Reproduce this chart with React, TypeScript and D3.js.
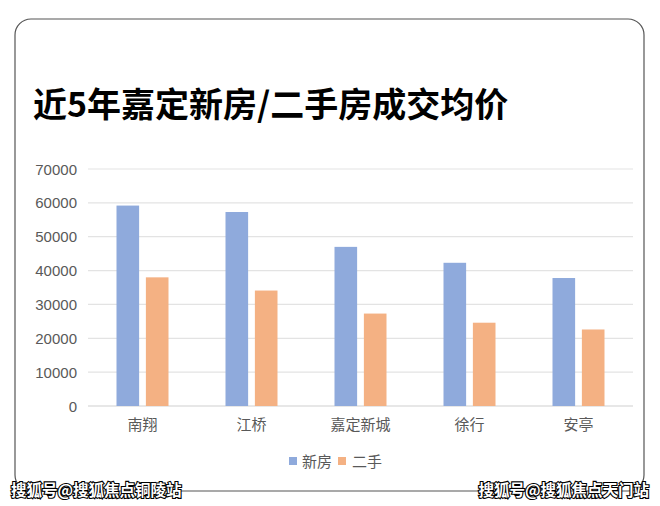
import * as d3 from 'd3';

const categories = ['南翔', '江桥', '嘉定新城', '徐行', '安亭'];
const seriesNames = ['新房', '二手'];
const newHouse = [59200, 57300, 47000, 42300, 37800];
const secondHand = [38000, 34100, 27300, 24600, 22600];
const yTicks = [0, 10000, 20000, 30000, 40000, 50000, 60000, 70000];
const colors = ['#8faadc', '#f4b183'];

const width = 660;
const height = 506;
const margins = { top: 169, right: 27, bottom: 100, left: 88 };

const App = () => {
  const xScale = d3
    .scaleBand<string>()
    .domain(categories)
    .range([margins.left, width - margins.right])
    .padding(0);
  const innerScale = d3
    .scaleBand<string>()
    .domain(seriesNames)
    .range([0, xScale.bandwidth()])
    .paddingInner(0.23)
    .paddingOuter(0.97);
  const yScale = d3
    .scaleLinear()
    .domain([0, 70000])
    .range([height - margins.bottom, margins.top]);

  const series = [newHouse, secondHand];
  const font = '"Liberation Sans", "Noto Sans CJK SC", sans-serif';
  const cjk = '"Noto Sans CJK SC", sans-serif';

  return (
    <svg
      width={width}
      height={height}
      viewBox={`0 0 ${width} ${height}`}
      style={{ position: 'absolute', left: 0, top: 0, background: '#fff' }}
    >
      <rect x={0} y={0} width={width} height={height} fill="#fff" />
      <rect
        x={15}
        y={19}
        width={629}
        height={472}
        rx={16}
        fill="none"
        stroke="#555"
        strokeWidth={1.2}
      />
      <text x={33} y={117} fontFamily={cjk} fontWeight="bold" fontSize={34} fill="#000">
        近5年嘉定新房/二手房成交均价
      </text>

      {yTicks.map(t => (
        <g key={t}>
          <line
            x1={margins.left}
            x2={width - margins.right}
            y1={yScale(t)}
            y2={yScale(t)}
            stroke={t === 0 ? '#cfcfcf' : '#e3e3e3'}
            strokeWidth={1.2}
          />
          <text
            x={77}
            y={yScale(t)}
            textAnchor="end"
            dominantBaseline="central"
            fontFamily={font}
            fontSize={15}
            fill="#595959"
          >
            {t}
          </text>
        </g>
      ))}

      {categories.map((c, i) => (
        <g key={c} transform={`translate(${xScale(c)}, 0)`}>
          {series.map((values, j) => (
            <rect
              key={seriesNames[j]}
              x={innerScale(seriesNames[j])}
              y={yScale(values[i])}
              width={innerScale.bandwidth()}
              height={yScale(0) - yScale(values[i])}
              fill={colors[j]}
            />
          ))}
          <text
            x={xScale.bandwidth() / 2}
            y={430}
            textAnchor="middle"
            fontFamily={cjk}
            fontSize={15}
            fill="#595959"
          >
            {c}
          </text>
        </g>
      ))}

      <g>
        <rect x={289} y={457} width={8} height={8} fill={colors[0]} />
        <text x={302} y={467} fontFamily={cjk} fontSize={15} fill="#595959">
          {seriesNames[0]}
        </text>
        <rect x={338} y={457} width={8} height={8} fill={colors[1]} />
        <text x={352} y={467} fontFamily={cjk} fontSize={15} fill="#595959">
          {seriesNames[1]}
        </text>
      </g>

      <g fontFamily={cjk} fontWeight="bold" fontSize={15.5} fill="#fff" stroke="#000" strokeWidth={2.2} paintOrder="stroke">
        <text x={11} y={496}>搜狐号@搜狐焦点铜陵站</text>
        <text x={649} y={496} textAnchor="end">搜狐号@搜狐焦点天门站</text>
      </g>
    </svg>
  );
};

export default App;
